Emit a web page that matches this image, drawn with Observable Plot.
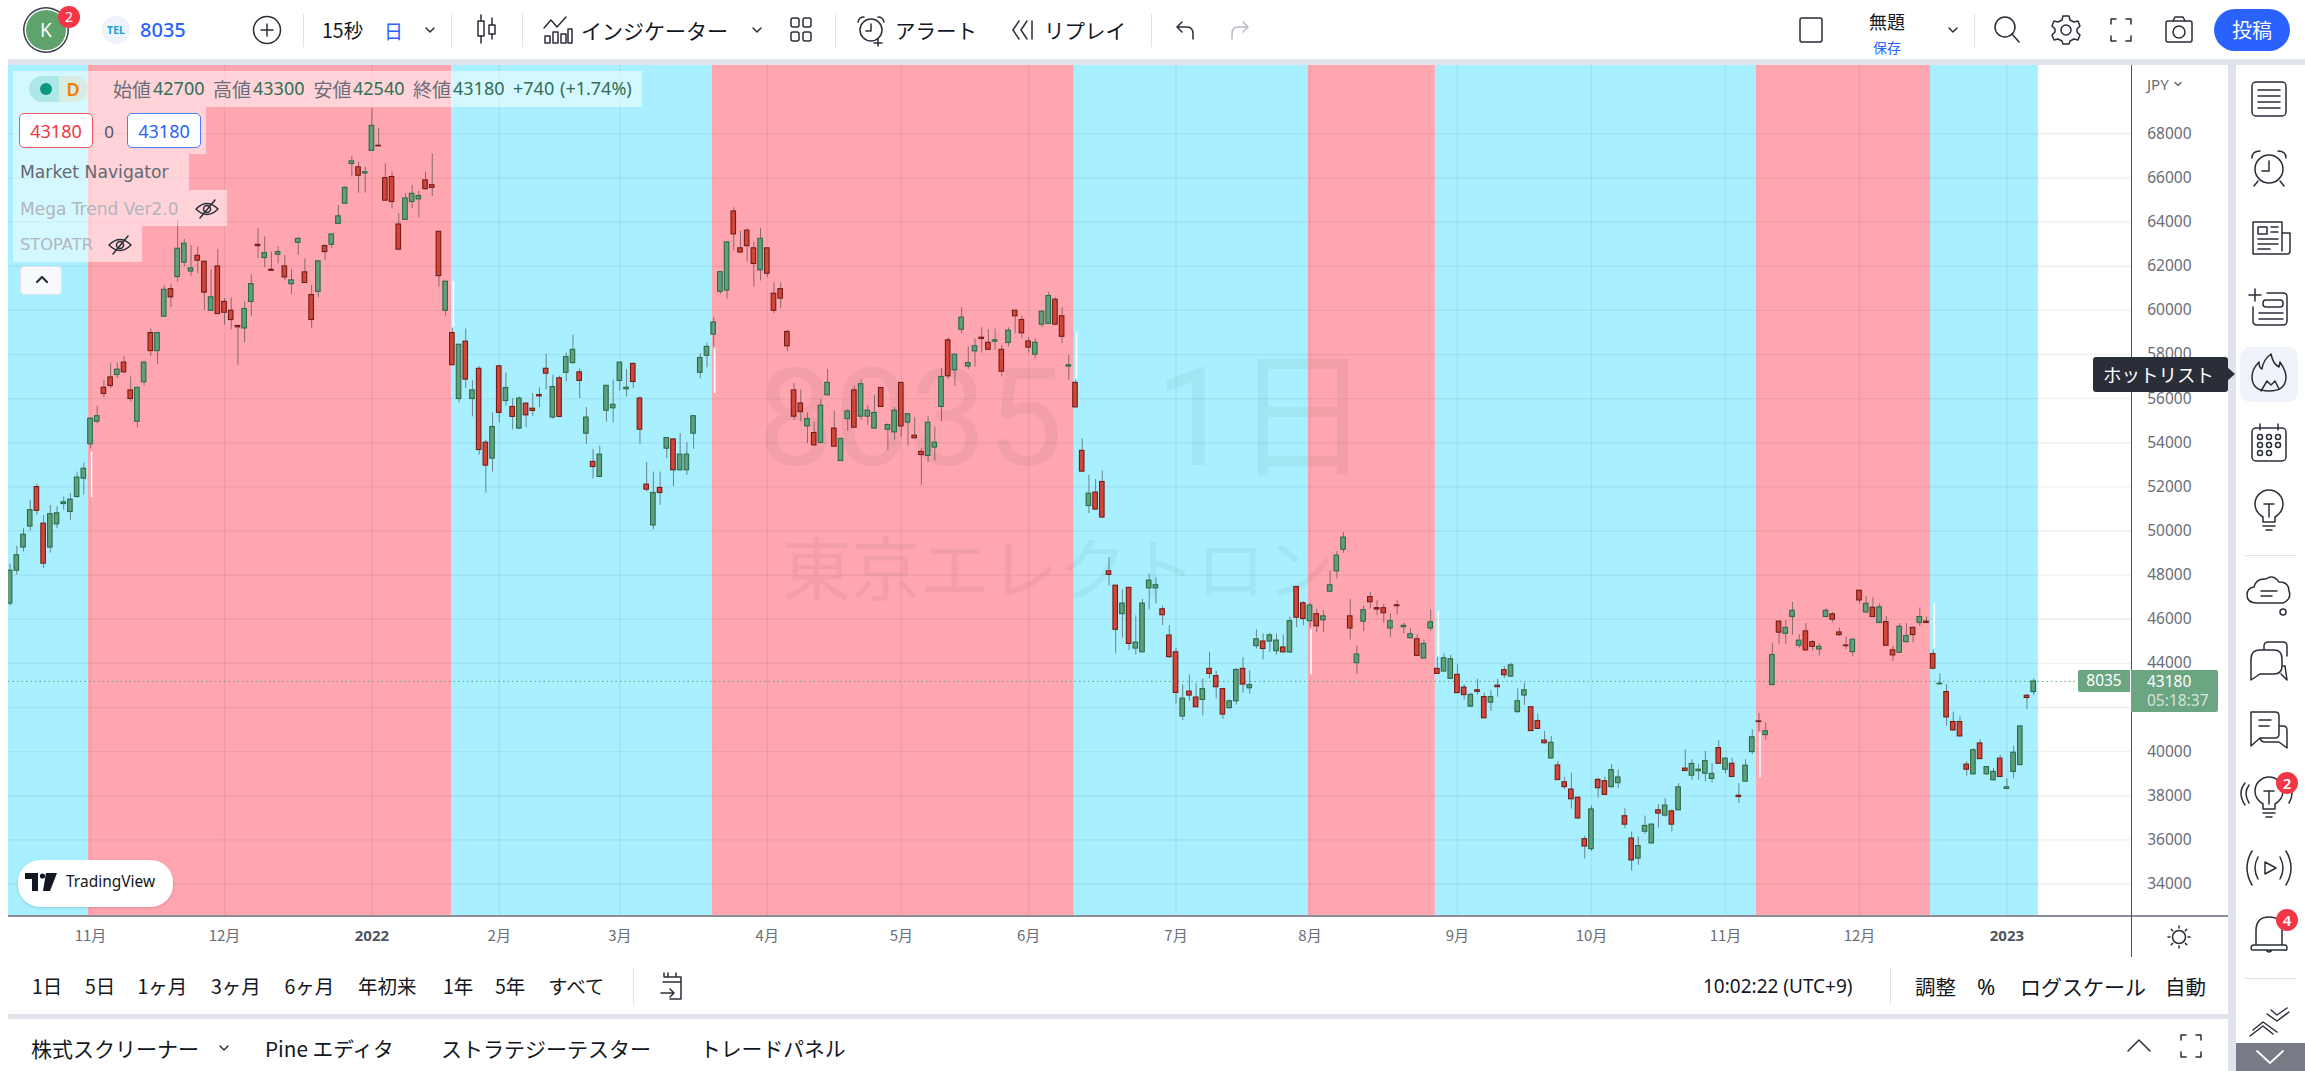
<!DOCTYPE html>
<html lang="ja">
<head>
<meta charset="utf-8">
<title>8035 東京エレクトロン 1日</title>
<script src="https://cdn.jsdelivr.net/npm/d3@7"></script>
<script src="https://cdn.jsdelivr.net/npm/@observablehq/plot@0.6"></script>
<style>
html,body{margin:0;padding:0;background:#fff;width:2305px;height:1071px;overflow:hidden}
body{font-family:"Noto Sans CJK JP","Noto Sans",sans-serif;color:#131722;position:relative}
.t{position:absolute;white-space:nowrap;line-height:1;transform:translateY(-50%)}
.b{position:absolute}
svg.i{position:absolute;overflow:visible;fill:none;stroke:#2a2e39;stroke-width:1.5;stroke-linecap:round;stroke-linejoin:round}
#chart{position:absolute;left:8px;top:65px}
</style>
</head>
<body>
<div id="chart"></div>
<script>
// OHLC values, one entry per trading day
const opens = [
46710,48200,49250,50200,51990,50330,49250,50300,51220,50860,
51540,52370,53930,54950,56490,56960,57070,57630,56370,54950,
56740,58970,58150,59710,60960,61510,62160,61760,62470,62200,
59980,61990,60380,59980,59290,59180,60380,62970,62370,61840,
62520,61990,61180,63060,61720,60690,60840,62910,62970,63920,
64830,66630,66480,66200,67230,67460,65990,66040,63890,64100,
64910,65030,65890,65670,63560,59980,58970,55980,58580,55980,
57350,54000,53280,57460,55890,55620,54640,55770,55540,56160,
57350,55140,56920,57170,57610,57190,54410,53130,52450,55450,
55560,56800,56420,57570,56000,52100,50250,51950,53730,54150,
52750,52750,54410,57170,57940,58900,60840,60900,64480,62810,
63610,62810,61810,62810,60750,60960,59020,56370,55780,54740,
54440,53990,56150,54640,53170,55070,56370,55180,55180,54640,
56480,54590,54470,56710,54910,54320,53580,53400,53780,55620,
58640,57280,59120,57450,58140,58760,58530,58580,58210,58520,
59980,59560,58590,57990,59350,59390,60480,59730,57450,56710,
53630,51130,51740,52220,48170,47520,46230,47420,44670,44500,
47400,47400,46450,45260,44500,41590,42720,42450,42340,43750,
43420,42830,41970,42280,43750,42870,44780,44990,44990,44550,
44720,44490,47460,46720,45910,46230,45950,47250,48170,49150,
46130,44010,45890,47000,46500,46500,45580,46630,45640,45140,
45090,44220,45580,43750,43630,43300,43480,42900,42040,42780,
42470,42220,42990,43690,43400,41790,42540,42010,41380,40500,
39690,39370,38610,38280,37910,36030,35580,38720,38660,38390,
38570,37070,36060,35150,36370,35840,37340,37100,37290,37340,
39230,38910,39110,39000,38760,40160,39180,39450,38000,38640,
39980,41370,40750,43020,45890,45340,46100,44800,45450,44960,
44630,46100,46220,45400,44810,44510,47290,46310,46520,45830,
45870,44590,44480,44960,45610,45830,45890,44420,43050,42700,
41340,41340,39410,38970,40370,38970,38700,39680,38310,39080,
39390,42530,42700];
const closes = [
48200,48900,49830,50940,50910,48520,50760,50800,51300,51420,
52420,52820,55090,55200,56210,56570,57310,57190,55980,56490,
57630,58150,58970,60930,60590,62790,63020,61900,62250,60800,
60590,59830,59890,59560,59230,60060,61190,62910,62590,61790,
62640,61490,61360,63240,61240,59560,62220,62640,63440,64260,
65550,66750,66100,66260,68360,67430,64970,64910,62750,65070,
65280,65180,65490,65550,61550,61300,57510,58440,56860,56370,
53670,52960,54710,55350,56480,55170,56000,55240,55440,56100,
57130,56520,55170,57880,58210,56800,55140,52900,53460,56580,
55720,57630,56490,56750,54590,51870,51720,51720,54210,52750,
53460,53460,55200,57840,58340,59450,61730,63080,63440,62620,
62910,62100,63240,61660,59980,60530,58370,55180,55390,55070,
53880,55680,56710,53820,54170,55420,54680,56650,55450,55350,
55620,54800,55450,54740,55290,54200,53440,54910,54000,56980,
57010,57990,59670,57610,58370,58700,58210,58640,57220,59080,
59730,58960,58310,58530,59940,60650,59350,58800,57510,55600,
52690,51690,50970,50610,48010,45520,46710,44880,44940,46710,
47750,47540,46180,44280,42660,42400,42540,42010,42830,43520,
42920,41680,42280,43700,43040,43010,45090,44650,45270,45030,
44500,45910,46070,46010,46620,45680,46130,47540,48880,49700,
45580,44400,46410,46770,46440,46270,45910,46590,45700,45320,
44340,44880,45860,43520,44230,44190,42650,42560,42570,42710,
41510,42470,42920,43460,43910,42280,42780,40930,41030,40380,
40400,38710,38390,37840,36970,35700,37380,38340,38040,39160,
38830,36690,35070,35720,36630,36690,37190,37550,36690,38380,
39120,39440,39180,39570,38990,39450,39680,38850,37940,39360,
40650,41340,40920,44380,45390,45610,46380,45030,44590,44750,
44750,46380,45980,45280,44780,45070,46850,46700,46100,46540,
44800,44360,45660,45240,45280,46100,45830,43760,43080,41550,
40960,40690,39180,40060,39660,39300,39080,38850,38380,39950,
41140,42430,43180];
const highs = [
48500,49300,50100,51390,52110,50700,51160,51100,51540,51690,
52670,53080,55090,55650,56830,57580,57610,57910,56980,56490,
57690,59150,58970,61130,61180,64100,63210,62940,62870,62260,
61840,62750,60530,60560,59290,60380,61610,63700,63320,62640,
62870,62490,61840,63290,62340,61130,62260,62990,63470,64750,
65610,66970,66720,66490,69130,68260,66640,66260,64380,65280,
65660,65400,66260,67090,63560,61300,59170,58440,59150,56800,
57460,54110,55350,57510,57160,56000,56070,55800,56220,56490,
58000,57050,57010,58060,58870,57350,55590,53690,53840,56600,
56830,57660,57310,57610,56100,53100,52670,52670,54210,54150,
54410,54000,55200,58030,58520,59670,61730,63080,64650,63580,
63700,63090,63700,62810,61250,61250,59090,56680,56400,55350,
54940,55950,57310,55420,54210,55500,56550,56830,55690,56150,
56480,54860,55590,56710,55320,55130,53730,55200,54710,57350,
58760,57990,60120,58340,58710,59210,59120,59150,58400,59210,
59980,59730,58760,58710,59940,60810,60570,60120,57960,56830,
54180,52520,52330,52720,48790,47520,47330,47450,46150,46900,
48040,47860,46600,45710,44690,43020,43480,43070,43280,44500,
43640,42870,42340,43760,44260,43660,45520,45330,45360,45330,
45290,46090,47480,46800,46720,46450,46380,48190,49060,49920,
46900,44790,46600,47220,46840,46680,46240,46840,45820,45590,
45290,45060,46420,44260,44430,44370,43930,43020,42650,43280,
42650,42770,43280,43850,44010,42840,43100,42040,41710,40910,
40680,39550,38840,39020,37940,36150,37540,38800,38840,39400,
39170,37410,36360,36130,37080,36740,37600,37870,37370,38550,
40060,39630,39420,40010,39450,40500,39730,39700,38550,39630,
40990,41730,41310,44890,45930,45950,46760,45310,45800,45040,
44890,46470,46310,45610,45190,45120,47310,47030,46970,46700,
46130,44770,45800,45800,45640,46510,46100,44590,43530,43030,
41790,41570,39530,40130,40540,39330,39230,39830,38770,40240,
41190,42590,43300];
const lows = [
46600,48000,49050,50000,50710,48300,49000,50100,50940,50480,
51470,51620,53730,54860,56040,56450,56900,57130,55840,54670,
56570,57910,57550,59700,60120,61280,61960,61540,61660,60000,
59970,59820,59320,59120,57510,58520,59740,62340,61930,61780,
62110,61330,60720,62490,61240,59170,60570,62260,62790,63890,
64800,66040,65310,65310,67220,67430,64950,64600,62690,64070,
64600,64180,65460,65160,61050,59740,57510,55810,56450,55170,
53430,51720,52670,54890,55650,54590,54590,54680,55200,55590,
56400,55070,55130,56750,57550,56000,53930,52360,52420,54940,
54890,56340,56070,56450,53930,51770,50050,51160,53280,52020,
52720,52520,53700,56900,57390,58340,60720,60510,62690,62590,
62190,61050,61330,61480,59850,60070,58130,55010,54940,53960,
53850,53960,56120,53810,53160,54520,54670,55010,54790,54610,
55620,53660,54110,54260,53850,54180,52070,53100,53160,54940,
56860,56550,58940,57320,57430,58060,58190,58190,56980,58340,
58940,58710,58060,57810,59210,59390,59320,58490,56830,55590,
52660,50790,50940,50560,47510,44430,45140,44580,44380,44490,
46420,46690,45710,44230,42160,41410,42270,42000,41620,43300,
42390,41470,41920,42100,42650,42600,44650,44160,44490,44370,
44460,44490,45620,45710,45620,45390,45390,47210,47820,48990,
45060,43510,45440,46470,46160,45820,45180,46200,45330,45120,
44310,44200,45440,43510,43610,43280,42630,42340,42010,42570,
41500,41820,42470,43310,43360,41740,42090,40910,41020,40340,
39660,38690,38270,37390,36940,35130,35470,37890,38030,38340,
38330,36510,34580,34850,36250,35810,36540,37040,36360,37340,
39110,38700,38700,38620,38580,39420,39000,38820,37640,38610,
39860,40890,40510,42970,44840,44840,45270,44660,44560,44560,
44330,46070,45840,45220,44620,44290,46700,46250,46070,45800,
44780,44090,44470,44920,44930,45670,45800,43710,43000,41160,
40930,40660,38890,38950,39650,38920,38670,38830,38280,38770,
39360,41910,42540];

// price scale ticks and month ticks (bar number of each month's first session)
const priceTicks = [68000,66000,64000,62000,60000,58000,56000,54000,52000,50000,48000,46000,44000,42000,40000,38000,36000,34000];
const monthBars = [12,32,73,91,113,133,152,174,194,216,236,256,276];
const monthLabels = ["11月","12月","2月","3月","4月","5月","6月","7月","8月","9月","10月","11月","12月"];
const yearBars = [54,298];
const yearLabels = ["2022","2023"];

// trend background segments, in bars
const cyanFrom = [-0.24,65.9,158.8,212.7,286.6];
const cyanTo   = [11.7,104.8,193.7,260.6,302.7];
const pinkFrom = [11.7,104.8,193.7,260.6];
const pinkTo   = [65.9,158.8,212.7,286.6];

// short white indicator strokes
const signalBars = [12,66,105,159,194,213,261,287];
const signalLow  = [51510,59240,56220,56900,43480,44310,38820,44660];
const signalHigh = [53580,61310,58260,58970,45520,46350,40860,46700];

const lastPrice = 43180;

const candles = opens.map((o,i)=>({i,open:o,close:closes[i],high:highs[i],low:lows[i]}));
const up = candles.filter(d=>d.close>=d.open);
const down = candles.filter(d=>d.close<d.open);
const seg = (a,b)=>a.map((v,k)=>({a:v,b:b[k]}));
const signals = signalBars.map((b,k)=>({b,lo:signalLow[k],hi:signalHigh[k]}));
const halfBody = 0.34;

const plot = Plot.plot({
  width:2220, height:895,
  marginLeft:0, marginTop:0, marginRight:96.3, marginBottom:44,
  x:{domain:[-0.239,316.7]},
  y:{domain:[32527,71096]},
  style:{background:"transparent",fontFamily:'"Noto Sans","Noto Sans CJK JP",sans-serif'},
  marks:[
    Plot.rect(seg(cyanFrom,cyanTo),{x1:"a",x2:"b",fill:"#a8f0ff"}),
    Plot.rect(seg(pinkFrom,pinkTo),{x1:"a",x2:"b",fill:"#ffa6b0"}),
    Plot.gridY(priceTicks,{stroke:"#2a2e39",strokeOpacity:0.07,strokeWidth:1.4}),
    Plot.gridX(monthBars.concat(yearBars),{stroke:"#2a2e39",strokeOpacity:0.07,strokeWidth:1.4}),
    Plot.text(["8035"],{frameAnchor:"middle",dy:-70,dx:-160,fontSize:136,fill:"#2a2e39",fillOpacity:0.055,fontFamily:'Roboto,"Noto Sans CJK JP"'}),
    Plot.text(["1日"],{frameAnchor:"middle",dy:-70,dx:193,fontSize:138,fill:"#2a2e39",fillOpacity:0.055,fontFamily:'Roboto,"Noto Sans CJK JP"'}),
    Plot.text(["東京エレクトロン"],{frameAnchor:"middle",dy:82,dx:-12,fontSize:69,fill:"#2a2e39",fillOpacity:0.055,fontFamily:'"Noto Sans CJK JP"'}),
    Plot.ruleY([lastPrice],{stroke:"#5b9b7a",strokeDasharray:"1.5 3",strokeOpacity:.9}),
    Plot.ruleX(signals,{x:"b",y1:"lo",y2:"hi",stroke:"#ffffff",strokeWidth:1.6,dx:1}),
    Plot.ruleX(candles,{x:"i",y1:"low",y2:"high",stroke:"#4a4a4a",strokeOpacity:.65,strokeWidth:1}),
    Plot.rect(up,{x1:d=>d.i-halfBody,x2:d=>d.i+halfBody,y1:"open",y2:"close",fill:"#5f9f7b",stroke:"#2c6a4a",strokeWidth:1.1}),
    Plot.rect(down,{x1:d=>d.i-halfBody,x2:d=>d.i+halfBody,y1:"open",y2:"close",fill:"#d2463a",stroke:"#741c16",strokeWidth:1.1}),
    Plot.axisY(priceTicks,{anchor:"right",tickSize:0,tickPadding:15,label:null,tickFormat:d=>String(d),fill:"#6a6d78",fontSize:15.5}),
    Plot.axisX(monthBars,{anchor:"bottom",tickSize:0,tickPadding:14,label:null,tickFormat:d=>monthLabels[monthBars.indexOf(d)],fill:"#6a6d78",fontSize:15,fontFamily:'"Noto Sans CJK JP"'}),
    Plot.axisX(yearBars,{anchor:"bottom",tickSize:0,tickPadding:14,label:null,tickFormat:d=>yearLabels[yearBars.indexOf(d)],fill:"#50535e",fontSize:15,fontWeight:700})
  ]
});
document.getElementById("chart").appendChild(plot);

// ---- interface chrome around the chart ----
const B = document.body;
function box(x,y,w,h,css){const d=document.createElement("div");d.className="b";d.style.cssText=`left:${x}px;top:${y}px;width:${w}px;height:${h}px;${css||""}`;B.appendChild(d);return d;}
function txt(x,y,s,size,color,extra){const d=document.createElement("div");d.className="t";d.textContent=s;d.style.cssText=`left:${x}px;top:${y}px;font-size:${size}px;color:${color||"#131722"};${extra||""}`;B.appendChild(d);return d;}
function ctr(x,y,s,size,color,extra){return txt(x,y,s,size,color,"transform:translate(-50%,-50%);"+(extra||""));}
function ic(cx,cy,w,h,inner,css){const n="http://www.w3.org/2000/svg";const s=document.createElementNS(n,"svg");s.setAttribute("class","i");s.setAttribute("width",w);s.setAttribute("height",h);s.setAttribute("viewBox",`${-w/2} ${-h/2} ${w} ${h}`);s.style.cssText=`left:${cx-w/2}px;top:${cy-h/2}px;${css||""}`;s.innerHTML=inner;B.appendChild(s);return s;}
const chev=(x,y,c)=>ic(x,y,12,8,'<path d="M-4 -2 L0 2 L4 -2"/>',c?`stroke:${c}`:"");

// gaps between panels
const gap="#e0e3eb";
box(8,59,2297,6,`background:${gap}`);
box(2228,59,8,1012,`background:${gap}`);
box(8,1014,2220,5,`background:${gap}`);
// axis lines
box(8,915,2220,2,"background:#8b8e96");
box(2131,65,1.4,892,"background:#50535e");

// legend panels
[[13,71,629,36],[13,107,193,47],[13,154,176,36],[13,190,214,36],[13,226,129,36]].forEach(r=>box(r[0],r[1],r[2],r[3],"background:rgba(255,255,255,.5)"));
box(29,76,30,26,"background:rgba(8,153,129,.18);border-radius:13px 0 0 13px");
box(59,76,29,26,"background:rgba(245,160,40,.14);border-radius:0 13px 13px 0");
box(40,83,12,12,"background:#089981;border-radius:50%");
ctr(73,89,"D",18,"#f57c00","font-family:'Noto Sans';font-weight:600");
const vg="#2f6f52",lg="#6a6d78";
[[113,"始値",153,"42700"],[213,"高値",253,"43300"],[313.5,"安値",353,"42540"],[413,"終値",453,"43180"]].forEach(r=>{
  txt(r[0],88,r[1],19,lg);txt(r[2],88,r[3],18,vg,"font-family:'Noto Sans'");
});
txt(513,88,"+740",18,vg,"font-family:'Noto Sans'");
txt(560,88,"(+1.74%)",18,vg,"font-family:'Noto Sans'");
box(19,113,72,33,"background:#fff;border:1.5px solid #ef5562;border-radius:5px");
ctr(56,131,"43180",18,"#f23645","font-family:'Noto Sans'");
ctr(109,131,"0",17,"#50535e","font-family:'Noto Sans'");
box(127,113,72,33,"background:#fff;border:1.5px solid #4a7dff;border-radius:5px");
ctr(164,131,"43180",18,"#2962ff","font-family:'Noto Sans'");
txt(20,173,"Market Navigator",17.2,"#65686f","font-family:'DejaVu Sans'");
txt(20,209,"Mega Trend Ver2.0",17,"#b2b5be","font-family:'DejaVu Sans'");
txt(20,245,"STOPATR",16.3,"#b2b5be","font-family:'DejaVu Sans'");
const eye='<path d="M-11 0 Q0 -11 11 0 Q0 11 -11 0Z"/><circle r="3.5"/><path d="M-7 9 L8 -9"/>';
ic(207,209,24,24,eye);ic(120,245,24,24,eye);
box(20,266,42,29,"background:#f8f9fd;border:1px solid #e0e3eb;border-radius:4px;box-sizing:border-box");
ic(42,280,14,10,'<path d="M-5 2 L0 -3 L5 2"/>',"stroke-width:2.2");

// TradingView badge
box(18,860,155,47,"background:#fff;border-radius:22px;box-shadow:0 1px 3px rgba(0,0,0,.15)");
ic(41,882,32,20,'<path d="M-16 -9 H-3 V9 H-9 V-3 H-16Z M5 -9 H16 L9 9 H2Z" style="fill:#131722;stroke:none"/><circle cx="1.5" cy="-6" r="2.6" style="fill:#131722;stroke:none"/>');
txt(66,882,"TradingView",15.5,"#131722","font-family:'Noto Sans'");

// price tags
box(2078,670,52,22,"background:#6ba582;border-radius:2px 0 0 2px");
ctr(2104,681,"8035",15.5,"#fff","font-family:'Noto Sans'");
box(2131,670,87,42,"background:#6ba582;border-radius:0 2px 2px 0");
txt(2147,682,"43180",15.5,"#fff","font-family:'Noto Sans'");
txt(2147,701,"05:18:37",15.5,"rgba(255,255,255,.72)","font-family:'Noto Sans'");
txt(2147,84,"JPY",15,"#6a6d78","font-family:'Noto Sans'");
ic(2178,84,10,6,'<path d="M-3 -1.5 L0 1.5 L3 -1.5"/>',"stroke:#6a6d78");
ic(2179,937,26,26,'<circle r="6.5"/><path d="M0 -11V-9M0 11V9M-11 0H-9M11 0H9M-7.8 -7.8L-6.4 -6.4M7.8 7.8L6.4 6.4M-7.8 7.8L-6.4 6.4M7.8 -7.8L6.4 -6.4"/>');

// top toolbar
box(26,10,40,40,"background:#5ea36b;border-radius:50%;box-shadow:0 0 0 1.5px #fff,0 0 0 3px #3a3f4b;");
ctr(46,30,"K",19,"#fff","font-family:'Noto Sans'");
box(58,6,22,22,"background:#f23645;border-radius:50%");
ctr(69,17,"2",14,"#fff","font-family:'Noto Sans'");
box(102,16,28,28,"background:#eef3fa;border-radius:50%");
ctr(116,30,"TEL",10.5,"#17a2d8","font-family:'Noto Sans';font-weight:700");
txt(140,30,"8035",20,"#2962ff","font-family:'Noto Sans';font-weight:500");
ic(267,30,30,30,'<circle r="13.5"/><path d="M-6 0H6M0 -6V6"/>');
const seps=[303,451,522,835,1151,1974];
seps.forEach(x=>box(x,14,1,33,"background:#e0e3eb"));
txt(322,30,"15秒",19.5,"#131722");
txt(384,30,"日",19,"#2962ff");
chev(430,30);
ic(486,30,24,34,'<rect x="-8" y="-9" width="6" height="15" /><path d="M-5 -15V-9M-5 6V13"/><rect x="3" y="-5" width="6" height="9"/><path d="M6 -12V-5M6 4V9"/>');
ic(558,30,32,32,'<path d="M-14 -2 L-7 -10 L-1 -3 L8 -13 M10 -10"/><rect x="-13" y="6" width="5" height="7"/><rect x="-5" y="2" width="5" height="11"/><rect x="3" y="4" width="5" height="9"/><rect x="10" y="-1" width="4" height="14"/>');
txt(581,30,"インジケーター",21,"#131722");
chev(757,30);
ic(801,30,26,30,'<rect x="-10" y="-12" width="8" height="9" rx="2"/><rect x="2" y="-12" width="8" height="9" rx="2"/><rect x="-10" y="2" width="8" height="9" rx="2"/><rect x="2" y="2" width="8" height="9" rx="2"/>');
ic(871,30,32,32,'<circle r="11"/><path d="M0 -6V1H-5M-13 -8 Q-12 -13 -7 -13M13 -8 Q12 -13 7 -13M3 13H11M7 9V16"/>');
txt(895,30,"アラート",20.5,"#131722");
ic(1022,30,24,24,'<path d="M-3 -9 L-9 0 L-3 9M5 -9 L-1 0 L5 9M10 -9V9"/>');
txt(1044,30,"リプレイ",20.5,"#131722");
ic(1185,30,24,24,'<path d="M-8 -3 L-3 -8 M-8 -3 L-3 2 M-8 -3 H2 Q8 -3 8 4 V9"/>');
ic(1240,30,24,24,'<path d="M8 -3 L3 -8 M8 -3 L3 2 M8 -3 H-2 Q-8 -3 -8 4 V9"/>',"stroke:#b8bac2");
ic(1811,30,26,28,'<rect x="-11" y="-12" width="22" height="24" rx="2"/>');
ctr(1887,21,"無題",18,"#131722");
ctr(1887,47,"保存",14,"#2962ff");
chev(1953,30);
ic(2007,30,30,30,'<circle cx="-2" cy="-3" r="10"/><path d="M5 4 L12 12"/>');
ic(2066,30,30,32,'<circle r="5"/><path d="M-3 -14H3L4 -10L8 -8L12 -9L14 -4L11 -1V2L14 5L12 10L8 9L4 11L3 14H-3L-4 11L-8 9L-12 10L-14 5L-11 2V-1L-14 -4L-12 -9L-8 -8L-4 -10Z"/>');
ic(2121,30,26,30,'<path d="M-10 -6V-11H-5M5 -11H10V-6M10 6V11H5M-5 11H-10V6"/>');
ic(2179,30,32,30,'<rect x="-13" y="-9" width="26" height="21" rx="2"/><path d="M-6 -9 L-4 -13 H4 L6 -9"/><circle cy="2" r="6"/>');
box(2214,9,76,42,"background:#2962ff;border-radius:21px");
ctr(2252,30,"投稿",20,"#fff");

// range toolbar
[[32,"1日"],[85,"5日"],[137.5,"1ヶ月"],[211,"3ヶ月"],[284.5,"6ヶ月"],[358,"年初来"],[443,"1年"],[495,"5年"],[548,"すべて"]].forEach(r=>txt(r[0],986,r[1],19.5,"#131722"));
box(633,968,1,37,"background:#e0e3eb");
ic(672,986,28,34,'<path d="M-8 -13V-9H9V13H-2M-4 -13V-9M4 -13V-9M-9 -4H9M-11 7H2M-2 3L2 7L-2 11"/>');
txt(1703,986,"10:02:22 (UTC+9)",19,"#131722","font-family:'Noto Sans'");
box(1890,968,1,37,"background:#e0e3eb");
txt(1915,986,"調整",20.5,"#131722");
txt(1977,986,"%",22,"#131722","font-family:'Noto Sans'");
txt(2020,986,"ログスケール",21,"#131722");
txt(2165,986,"自動",20.5,"#131722");

// bottom tabs
txt(31,1048,"株式スクリーナー",21,"#131722");
chev(224,1048);
txt(265,1048,"Pine エディタ",20.7,"#131722");
txt(441,1048,"ストラテジーテスター",21,"#131722");
txt(700,1048,"トレードパネル",20.8,"#131722");
ic(2139,1046,26,18,'<path d="M-11 5 L0 -6 L11 5"/>');
ic(2191,1046,26,28,'<path d="M-10 -6V-11H-5M5 -11H10V-6M10 6V11H5M-5 11H-10V6"/>');

// right sidebar
const sx=2269;
box(2240,347,58,55,"background:#f0f3fa;border-radius:10px");
ic(sx,99,38,38,'<rect x="-17" y="-17" width="34" height="34" rx="4"/><path d="M-11 -9H11M-11 -3H11M-11 3H11M-11 9H11"/>');
ic(sx,168,38,40,'<circle cy="1" r="14"/><path d="M0 -7V3H-7M-17 -10Q-17 -17 -9 -17M17 -10Q17 -17 9 -17M-11 13L-15 18M11 13L15 18"/>');
ic(sx,238,40,36,'<path d="M13 -16 H-16 V16 H18 Q21 16 21 13 V-5 H13 Z M13 -16 V13"/><rect x="-11" y="-11" width="9" height="7"/><path d="M2 -11H9M2 -6H9M-11 1H9M-11 6H9M-11 11H1"/>');
ic(sx,307,44,38,'<path d="M-20 -12H-8M-14 -18V-6M-2 -14H14Q18 -14 18 -10V14Q18 18 14 18H-12Q-16 18 -16 14V0"/><rect x="-6" y="-7" width="20" height="7" rx="3"/><path d="M-10 6H14M-10 12H14"/>');
ic(sx,373,36,42,'<path d="M2 -19 Q4 -9 10 -6 L11 -11 Q17 -2 17 4 Q17 18 0 18 Q-17 18 -17 4 Q-17 -4 -10 -11 Q-10 -5 -7 -4 Q-6 -13 2 -19Z M-8 18 L-2 8 L2 12 L6 8 L10 16"/>');
ic(sx,443,38,38,'<rect x="-17" y="-15" width="34" height="33" rx="4"/><path d="M-9 -19V-13M9 -19V-13"/><circle cx="-9" cy="-6" r="2.5"/><circle cy="-6" r="2.5"/><circle cx="9" cy="-6" r="2.5"/><circle cx="-9" cy="2" r="2.5"/><circle cy="2" r="2.5"/><circle cx="9" cy="2" r="2.5"/><circle cx="-9" cy="10" r="2.5"/><circle cy="10" r="2.5"/>');
const bulb='<path d="M-6 7 Q-14 2 -14 -6 A14 14 0 0 1 14 -6 Q14 2 6 7 V12 H-6 Z M-6 16H6M-3 20H3M-5 -6H5M0 -6V7"/>';
ic(sx,510,36,44,bulb);
box(2245,555,52,1,"background:#e0e3eb");
ic(sx,595,46,42,'<path d="M-12 8 Q-22 8 -22 0 Q-22 -7 -15 -8 Q-13 -17 -3 -16 Q4 -21 10 -13 Q20 -13 20 -4 Q23 4 14 8 Z M-8 -4H8M-8 1H3"/><circle cx="14" cy="17" r="3"/>');
ic(sx,662,42,42,'<path d="M-5 -12 H-9 Q-18 -12 -18 -3 V18 L-9 12 H5 Q13 12 13 4 V-3 Q13 -12 5 -12 Z M-5 -12 V-16 Q-5 -20 0 -20 H14 Q18 -20 18 -16 V-6 M13 4 H16 L18 18 L12 12"/>');
ic(sx,730,42,40,'<path d="M-18 -18 H6 Q10 -18 10 -14 V4 Q10 8 6 8 H-9 L-18 16 Z M-10 -10H2M-10 -4H0 M10 -4 H14 Q18 -4 18 0 V18 L10 12 H-4 Q-8 12 -9 8"/>');
ic(sx,797,50,44,bulb+'<path d="M-20 -12Q-26 -4 -20 6M-24 -14Q-32 -4 -24 8M20 -12Q26 -4 20 6"/>');
box(2276,772,22,22,"background:#f23645;border-radius:50%");ctr(2287,783,"2",15,"#fff","font-family:'Noto Sans';font-weight:600");
ic(sx,868,48,40,'<path d="M-4 -6 L7 0 L-4 6Z M-11 -11Q-17 0 -11 11M11 -11Q17 0 11 11M-17 -17Q-27 0 -17 17M17 -17Q27 0 17 17"/>');
ic(sx,933,38,38,'<path d="M-16 12 H16 Q18 12 18 15 T16 17 H-16 Q-18 17 -18 15 T-16 12Z M-13 12 V-2 Q-13 -16 0 -16 Q13 -16 13 -2 V12 M-3 17 Q0 21 3 17"/>');
box(2276,909,22,22,"background:#f23645;border-radius:50%");ctr(2287,920,"4",15,"#fff","font-family:'Noto Sans';font-weight:600");
box(2245,978,52,1,"background:#e0e3eb");
ic(sx,1022,44,28,'<path d="M-16 8 L-6 0 L8 10 M-19 14 L-6 4 L4 12 M-2 -8 L8 -1 L20 -10 M2 -12 L8 -7 L18 -14"/>');
box(2236,1043,69,28,"background:#787b86");
ic(2270,1057,30,18,'<path d="M-13 -6 L0 6 L13 -6"/>',"stroke:#fff;stroke-width:1.8");

// hovered tooltip
box(2093,357,135,35,"background:#2a2e39;border-radius:3px");
ic(2231,374,10,14,'<path d="M-4 -7 L4 0 L-4 7Z" style="fill:#2a2e39;stroke:none"/>');
txt(2103,374,"ホットリスト",18.5,"#fff");
</script>
</body>
</html>
